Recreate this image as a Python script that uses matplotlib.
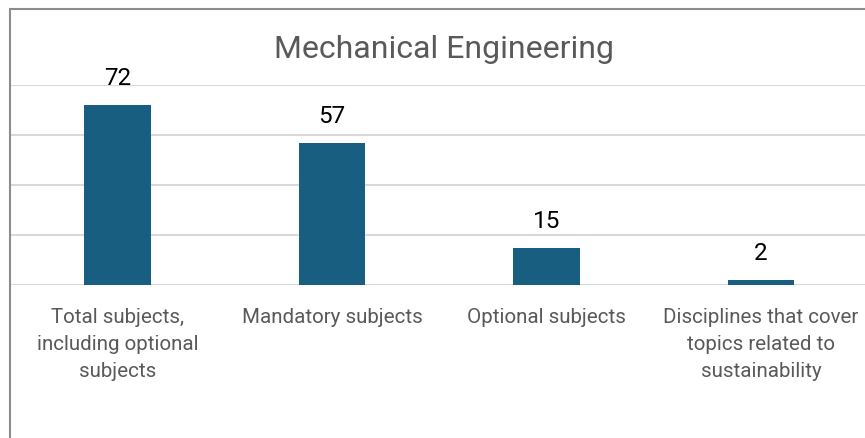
import matplotlib.pyplot as plt
from matplotlib.patches import Rectangle

# chart data
categories = [
    "Total subjects,\nincluding optional\nsubjects",
    "Mandatory subjects",
    "Optional subjects",
    "Disciplines that cover\ntopics related to\nsustainability",
]
counts = [72, 57, 15, 2]

BAR_COLOR = "#185e80"
GRID_COLOR = "#d9d9d9"
TEXT_GRAY = "#595959"

plt.rcParams["font.family"] = ["Roboto", "DejaVu Sans"]

fig = plt.figure(figsize=(8.65, 4.38), dpi=100)
ax = fig.add_axes([10.25 / 865, 153 / 438, 858 / 865, 200 / 438])

x = range(len(categories))
bars = ax.bar(x, counts, width=0.31, color=BAR_COLOR, zorder=2)
ax.bar_label(bars, labels=[str(v) for v in counts], padding=10.5,
             fontsize=17.5, color="black")

ax.set_xlim(-0.5, len(categories) - 0.5)
ax.set_ylim(0, 80)
ax.set_yticks([0, 20, 40, 60, 80])
ax.yaxis.grid(True, color=GRID_COLOR, linewidth=1.5, zorder=0)
ax.tick_params(axis="y", left=False, labelleft=False)
ax.set_xticks(list(x))
ax.set_xticklabels(categories, fontsize=14.8, color=TEXT_GRAY, linespacing=1.55)
ax.tick_params(axis="x", bottom=False, pad=13)
for side in ax.spines.values():
    side.set_visible(False)

# outer chart frame (only the left and top edges fall inside the image)
fig.patches.append(Rectangle((10 / 865, -0.1), 1.2, 1 - 9 / 438 + 0.1,
                             transform=fig.transFigure, fill=False,
                             edgecolor="#8c8c8c", linewidth=1.5))

fig.text(0.513, 1 - 50 / 438, "Mechanical Engineering", ha="center",
         va="center", fontsize=23, color=TEXT_GRAY)

fig.savefig("out.png", dpi=100)
